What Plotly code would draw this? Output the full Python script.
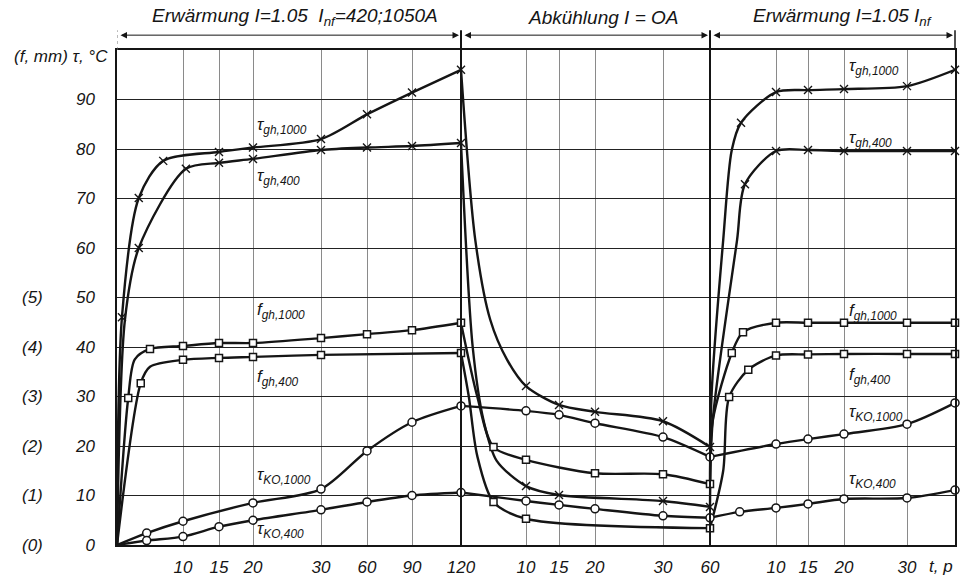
import numpy as np
import plotly.graph_objects as go

# ---- axis scale: global time (heating 0-120, cooling 120-180, heating 180-220) ----
TICK_T = [0, 10, 15, 20, 30, 60, 90, 120, 130, 135, 140, 150, 180, 190, 195, 200, 210, 220]
TICK_POS = [0, 66, 102, 136, 204, 250, 295, 344, 409, 442, 478, 546, 593, 659, 691, 727, 790, 838]
TICK_LABEL = ["", "10", "15", "20", "30", "60", "90", "120", "10", "15", "20", "30", "60",
              "10", "15", "20", "30", ""]
SEGMENTS = [(0, 120), (120, 180), (180, 220)]

# ---- series (global time, value, marker flag) ----
TGH1000_G = [0, 0.75, 3.3, 7, 15, 20, 30, 60, 90, 120,
             122.2, 124.5, 127.1, 130, 135, 140, 150, 180,
             180.3, 182.0, 183.3, 184.7, 190, 195, 200, 210, 220]
TGH1000_V = [0, 46, 70.1, 77.6, 79.4, 80.3, 82.0, 87.0, 91.4, 96.0,
             61.6, 45.5, 37.4, 32.1, 28.3, 26.9, 25.0, 19.8,
             32.0, 61.6, 79.8, 85.3, 91.5, 91.9, 92.1, 92.7, 96.0]
TGH1000_M = [0, 1, 1, 1, 1, 1, 1, 1, 1, 1,
             0, 0, 0, 1, 1, 1, 1, 1,
             0, 0, 0, 1, 1, 1, 1, 1, 1]

TGH400_G = [0, 1.2, 3.3, 10.4, 15, 20, 30, 60, 90, 120,
            121.8, 123.5, 125.5, 130, 135, 150, 180,
            180.4, 184.1, 185.3, 190, 195, 200, 210, 220]
TGH400_V = [0, 45.5, 60.0, 76.0, 77.2, 78.0, 79.8, 80.3, 80.6, 81.2,
            40.0, 25.0, 17.0, 11.9, 10.1, 8.9, 7.7,
            25.0, 61.6, 72.9, 79.6, 79.8, 79.6, 79.6, 79.6]
TGH400_M = [0, 0, 1, 1, 1, 1, 1, 1, 1, 1,
            0, 0, 0, 1, 1, 1, 1,
            0, 0, 1, 1, 1, 1, 1, 1]

FGH1000_G = [0, 1.7, 2.7, 5, 10, 15, 20, 30, 60, 90, 120,
             122.5, 125, 130, 140, 150, 180,
             180.4, 183.3, 185, 190, 195, 200, 210, 220]
FGH1000_V = [0, 29.7, 37.5, 39.6, 40.2, 40.8, 40.8, 41.8, 42.6, 43.4, 44.9,
             30.0, 19.8, 17.2, 14.5, 14.3, 12.3,
             25.0, 38.8, 43.0, 44.9, 44.9, 44.9, 44.9, 44.9]
FGH1000_M = [0, 1, 0, 1, 1, 1, 1, 1, 1, 1, 1,
             0, 1, 1, 1, 1, 1,
             0, 1, 1, 1, 1, 1, 1, 1]

FGH400_G = [0, 3.6, 5, 10, 15, 20, 30, 120,
            121.2, 122.5, 125, 130, 180,
            182, 182.9, 185.8, 190, 195, 200, 210, 220]
FGH400_V = [0, 32.7, 36.0, 37.4, 37.8, 38.0, 38.4, 38.8,
            30.0, 18.0, 8.7, 5.3, 3.4,
            15.0, 29.9, 35.4, 38.3, 38.5, 38.6, 38.6, 38.6]
FGH400_M = [0, 1, 0, 1, 1, 1, 1, 1,
            0, 0, 1, 1, 1,
            0, 1, 1, 1, 1, 1, 1, 1]

TKO1000_G = [0, 4.5, 10, 20, 30, 60, 90, 120,
             130, 135, 140, 150, 180,
             190, 195, 200, 210, 220]
TKO1000_V = [0, 2.4, 4.8, 8.5, 11.3, 19.0, 24.8, 28.1,
             27.1, 26.3, 24.6, 21.8, 17.8,
             20.4, 21.4, 22.4, 24.4, 28.7]
TKO1000_M = [0, 1, 1, 1, 1, 1, 1, 1,
             1, 1, 1, 1, 1,
             1, 1, 1, 1, 1]

TKO400_G = [0, 4.5, 10, 15, 20, 30, 60, 90, 120,
            130, 135, 140, 150, 180,
            184.5, 190, 195, 200, 210, 220]
TKO400_V = [0, 0.9, 1.7, 3.7, 5.0, 7.1, 8.7, 10.0, 10.6,
            8.9, 8.1, 7.3, 5.9, 5.5,
            6.7, 7.5, 8.3, 9.3, 9.5, 11.1]
TKO400_M = [0, 1, 1, 1, 1, 1, 1, 1, 1,
            1, 1, 1, 1, 1,
            1, 1, 1, 1, 1, 1]

SERIES = [
    (TGH1000_G, TGH1000_V, TGH1000_M, "x-thin-open"),
    (TGH400_G, TGH400_V, TGH400_M, "x-thin-open"),
    (FGH1000_G, FGH1000_V, FGH1000_M, "square"),
    (FGH400_G, FGH400_V, FGH400_M, "square"),
    (TKO1000_G, TKO1000_V, TKO1000_M, "circle"),
    (TKO400_G, TKO400_V, TKO400_M, "circle"),
]

# curve labels: (text, value)
LABELS_LEFT = [
    ("τ<sub>gh,1000</sub>", 84.6),
    ("τ<sub>gh,400</sub>", 74.3),
    ("f<sub>gh,1000</sub>", 47.3),
    ("f<sub>gh,400</sub>", 33.7),
    ("τ<sub>KO,1000</sub>", 13.9),
    ("τ<sub>KO,400</sub>", 3.0),
]
LABELS_RIGHT = [
    ("τ<sub>gh,1000</sub>", 96.6),
    ("τ<sub>gh,400</sub>", 82.0),
    ("f<sub>gh,1000</sub>", 47.0),
    ("f<sub>gh,400</sub>", 34.1),
    ("τ<sub>KO,1000</sub>", 26.7),
    ("τ<sub>KO,400</sub>", 13.1),
]
LABEL_LEFT_T = 20.3
LABEL_RIGHT_T = 200.4

Y_TICKS = [0, 10, 20, 30, 40, 50, 60, 70, 80, 90]
F_TICKS = ["(0)", "(1)", "(2)", "(3)", "(4)", "(5)"]

HEADERS = ["Erwärmung I=1.05&nbsp;&nbsp;I<sub>nf</sub>=420;1050A", "Abkühlung I = OA",
           "Erwärmung I=1.05 I<sub>nf</sub>"]
HEADER_X = [0.213, 0.58, 0.866]

FONT = "Liberation Sans, Arial, sans-serif"
INK = "#151515"


def pos(g):
    return np.interp(np.asarray(g, dtype=float), TICK_T, TICK_POS)


fig = go.Figure()

for g, v, m, sym in SERIES:
    g = np.asarray(g, float)
    v = np.asarray(v, float)
    m = np.asarray(m, bool)
    for lo, hi in SEGMENTS:
        sel = (g >= lo) & (g <= hi)
        fig.add_trace(go.Scatter(
            x=pos(g[sel]), y=v[sel], mode="lines",
            line=dict(color=INK, width=2.4, shape="spline", smoothing=0.8),
            hoverinfo="skip", showlegend=False))
    if sym.startswith("x"):
        mk = dict(symbol=sym, size=8, color=INK, line=dict(color=INK, width=1.4))
    else:
        mk = dict(symbol=sym, size=8 if sym == "circle" else 7, color="white",
                  line=dict(color=INK, width=1.5))
    fig.add_trace(go.Scatter(x=pos(g[m]), y=v[m], mode="markers", marker=mk,
                             hoverinfo="skip", showlegend=False, cliponaxis=False))

ann = []
lab_font = dict(family=FONT, size=17, color=INK, style="italic")
for text, val in LABELS_LEFT:
    ann.append(dict(x=float(pos(LABEL_LEFT_T)), y=val, xref="x", yref="y", text=text,
                    showarrow=False, xanchor="left", yanchor="middle", font=lab_font))
for text, val in LABELS_RIGHT:
    ann.append(dict(x=float(pos(LABEL_RIGHT_T)), y=val, xref="x", yref="y", text=text,
                    showarrow=False, xanchor="left", yanchor="middle", font=lab_font))

big_font = dict(family=FONT, size=19, color=INK, style="italic")
for i, (lo, hi) in enumerate(SEGMENTS):
    ann.append(dict(x=HEADER_X[i], y=1.066, xref="paper", yref="paper", text=HEADERS[i],
                    showarrow=False, xanchor="center", yanchor="middle", font=big_font))
    ann.append(dict(x=float(pos(hi)) - 2, y=1.03, xref="x", yref="paper",
                    ax=float(pos(lo)) + 2, ay=0, axref="x", ayref="pixel",
                    text="", showarrow=True, arrowhead=2, arrowside="end+start",
                    arrowsize=1.3, arrowwidth=1, arrowcolor=INK))

tick_font = dict(family=FONT, size=17, color=INK, style="italic")
for i, t in enumerate(F_TICKS):
    ann.append(dict(x=-0.101, y=Y_TICKS[i], xref="paper", yref="y", text=t,
                    showarrow=False, xanchor="center", yanchor="middle", font=tick_font))
ann.append(dict(x=-0.008, y=98.6, xref="paper", yref="y", text="(f, mm) τ, °C",
                showarrow=False, xanchor="right", yanchor="middle", font=tick_font))
ann.append(dict(x=1.0, y=-0.043, xref="paper", yref="paper", text="t, p",
                showarrow=False, xanchor="right", yanchor="middle", font=tick_font))

shapes = []
for gb in [120, 180]:
    xb = float(pos(gb))
    shapes.append(dict(type="line", xref="x", yref="paper", x0=xb, x1=xb, y0=0, y1=1.04,
                       line=dict(color=INK, width=2)))
shapes.append(dict(type="line", xref="x", yref="paper", x0=0, x1=0, y0=1.0, y1=1.04,
                   line=dict(color="#777", width=1, dash="dot")))
shapes.append(dict(type="line", xref="paper", yref="paper", x0=1, x1=1, y0=1.0, y1=1.04,
                   line=dict(color=INK, width=1.5)))

fig.update_layout(
    width=963, height=578,
    margin=dict(l=117, r=8, t=50, b=33),
    paper_bgcolor="white", plot_bgcolor="white",
    annotations=ann, shapes=shapes,
    xaxis=dict(range=[0, TICK_POS[-1]], tickvals=TICK_POS[1:-1], ticktext=TICK_LABEL[1:-1],
               showgrid=True, gridcolor="#8a8a8a", gridwidth=1, zeroline=False,
               showline=True, mirror=True, linecolor=INK, linewidth=2, automargin=False,
               ticks="", tickfont=tick_font, ticklabelstandoff=6, fixedrange=True),
    yaxis=dict(range=[0, 100], tickvals=Y_TICKS, showgrid=True, gridcolor="#222", gridwidth=1.2,
               zeroline=False, showline=True, mirror=True, linecolor=INK, linewidth=1.5,
               automargin=False,
               ticks="", tickfont=tick_font, ticklabelstandoff=17, fixedrange=True),
)

fig.write_html("out.html")
